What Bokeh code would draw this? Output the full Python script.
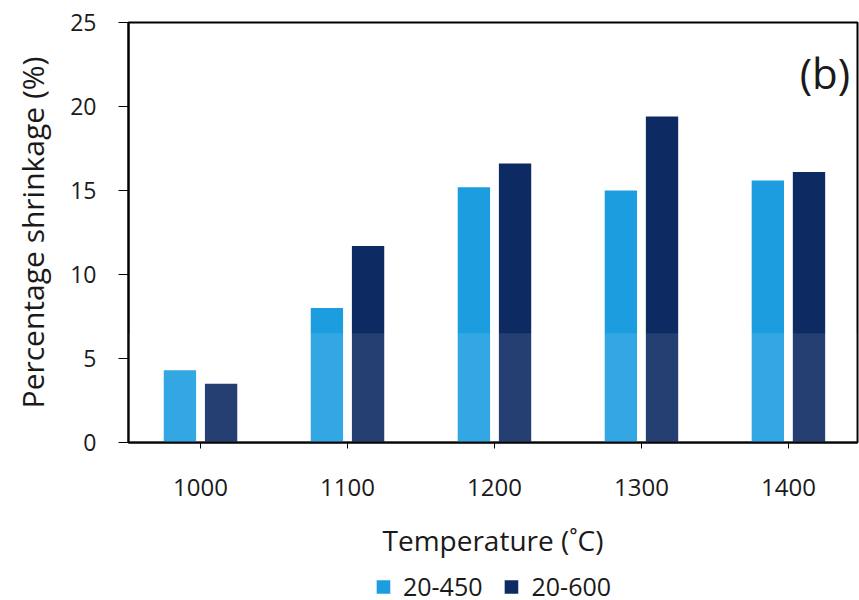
from bokeh.plotting import figure
from bokeh.layouts import column
from bokeh.models import (ColumnDataSource, FixedTicker, Legend, LegendItem,
                          Label, BoxAnnotation)
from bokeh.embed import file_html
from bokeh.resources import INLINE

# ---- data ----
temperatures = ["1000", "1100", "1200", "1300", "1400"]
shrink_450 = [4.3, 8.0, 15.2, 15.0, 15.6]
shrink_600 = [3.5, 11.7, 16.6, 19.4, 16.1]
series_labels = ["20-450", "20-600"]
y_ticks = [0, 5, 10, 15, 20, 25]

LIGHT = "#1b9de0"
DARK = "#0e2a63"
FONT = "Open Sans"
TXT = "#1a1a1a"

pos = list(range(len(temperatures)))
src = ColumnDataSource(dict(
    x1=[p_ - 0.14 for p_ in pos], x2=[p_ + 0.14 for p_ in pos],
    a=shrink_450, b=shrink_600))

p = figure(frame_width=729, frame_height=420, output_backend="svg", toolbar_location=None,
           x_range=(-0.49, 4.47), y_range=(0, 25),
           min_border_left=128, min_border_right=2, min_border_top=22,
           min_border_bottom=130)

r1 = p.vbar(x="x1", top="a", width=0.22, source=src, fill_color=LIGHT, line_color=None)
r2 = p.vbar(x="x2", top="b", width=0.22, source=src, fill_color=DARK, line_color=None)

# scan shading on the lower part of the bars
p.add_layout(BoxAnnotation(bottom=0, top=6.5, fill_color="white", fill_alpha=0.1,
                           line_color=None))

p.grid.visible = False
p.outline_line_color = "black"
p.outline_line_width = 2
p.background_fill_color = "white"
p.border_fill_color = "white"

# y axis
ya = p.yaxis[0]
ya.ticker = FixedTicker(ticks=y_ticks)
ya.axis_label = "Percentage shrinkage (%)"
ya.axis_line_color = "black"
ya.axis_line_width = 2
ya.major_tick_out = 10
ya.major_tick_in = 0
ya.minor_tick_line_color = None
ya.major_tick_line_color = "black"
ya.major_label_text_font = FONT
ya.major_label_text_font_size = "23px"
ya.major_label_text_color = TXT
ya.major_label_standoff = 22
ya.axis_label_text_font = FONT
ya.axis_label_text_font_size = "30px"
ya.axis_label_text_font_style = "normal"
ya.axis_label_text_color = TXT
ya.axis_label_standoff = 14

# x axis
xa = p.xaxis[0]
xa.ticker = FixedTicker(ticks=pos)
xa.major_label_overrides = {i: t for i, t in enumerate(temperatures)}
xa.axis_label = "Temperature (˚C)"
xa.axis_line_color = "black"
xa.axis_line_width = 2
xa.major_tick_out = 6
xa.major_tick_in = 0
xa.major_tick_line_color = "black"
xa.minor_tick_line_color = None
xa.major_label_text_font = FONT
xa.major_label_text_font_size = "24px"
xa.major_label_text_color = TXT
xa.major_label_standoff = 30
xa.axis_label_text_font = FONT
xa.axis_label_text_font_size = "28px"
xa.axis_label_text_font_style = "normal"
xa.axis_label_text_color = TXT
xa.axis_label_standoff = 22

p.add_layout(Label(x=4.42, y=22, text="(b)", text_font=FONT, text_font_size="42px",
                   text_align="right", text_baseline="middle", text_color=TXT))

# ---- legend strip below the chart ----
lg = figure(width=859, height=28, output_backend="svg", toolbar_location=None,
            x_range=p.x_range, y_range=(100, 101),
            min_border_left=128, min_border_right=2, min_border_top=0,
            min_border_bottom=0, x_axis_location=None, y_axis_location=None)
lg.grid.visible = False
lg.outline_line_color = None
lg.background_fill_color = "white"
lg.border_fill_color = "white"
g1 = lg.vbar(x="x1", top="a", width=0.22, source=src, fill_color=LIGHT, line_color=None)
g2 = lg.vbar(x="x2", top="b", width=0.22, source=src, fill_color=DARK, line_color=None)

legend = Legend(items=[LegendItem(label=series_labels[0], renderers=[g1]),
                       LegendItem(label=series_labels[1], renderers=[g2])],
                orientation="horizontal", location="center",
                label_text_font=FONT, label_text_font_size="25px",
                label_text_color=TXT, glyph_width=17, glyph_height=17,
                label_standoff=12, spacing=20, padding=0, margin=0,
                border_line_color=None, background_fill_alpha=0)
lg.add_layout(legend, "center")

layout = column(p, lg, spacing=0)
open("out.html", "w").write(file_html(layout, INLINE))
